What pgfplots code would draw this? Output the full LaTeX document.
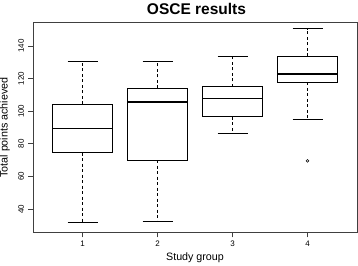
\documentclass[border=0pt]{standalone}
\usepackage{fontspec}
\setmainfont{Liberation Sans}
\usepackage{pgfplots}
\pgfplotsset{compat=1.18}
\usepgfplotslibrary{statistics}
\begin{document}
\begin{tikzpicture}
\begin{axis}[
  name=ax,
  scale only axis,
  clip=false,
  width=324pt, height=210.5pt,
  xmin=0.34, xmax=4.66,
  ymin=25.5, ymax=154.5,
  xtick={1,2,3,4},
  ytick={40,60,80,100,120,140},
  yticklabels={},
  xtick pos=bottom, ytick pos=left,
  tick align=outside,
  major tick length=4.5pt,
  /pgf/number format/assume math mode=true,
  ticklabel style={font=\fontsize{8}{9}\selectfont},
  xticklabel style={anchor=north, inner sep=1pt, yshift=-2pt},
  axis line style={black!75, line width=0.8pt},
  tick style={black!75, line width=0.8pt},
  title={OSCE results},
  title style={font=\fontsize{15.5}{17}\selectfont\bfseries, at={(axis description cs:0.5,1)}, anchor=base, yshift=1.3pt, xshift=1.5pt},
  xlabel={Study group},
  ylabel={Total points achieved},
  label style={font=\fontsize{10.7}{12}\selectfont},
  xlabel style={at={(axis description cs:0.5,-0.133)}, anchor=base},
  ylabel style={at={(axis description cs:-0.087,0.5)}, anchor=center},
  boxplot/draw direction=y,
  boxplot/box extend=0.8,
  boxplot/whisker extend=0.4,
  boxplot/every median/.style={line width=1.6pt},
  boxplot/draw/lower whisker/.code={%
    \draw[line width=0.8pt, dash pattern=on 3pt off 2.5pt] (boxplot box cs:\pgfplotsboxplotvalue{lower quartile},0.5) -- (boxplot box cs:\pgfplotsboxplotvalue{lower whisker},0.5);
    \draw[line width=0.8pt] (boxplot whisker cs:\pgfplotsboxplotvalue{lower whisker},0) -- (boxplot whisker cs:\pgfplotsboxplotvalue{lower whisker},1);
  },
  boxplot/draw/upper whisker/.code={%
    \draw[line width=0.8pt, dash pattern=on 3pt off 2.5pt] (boxplot box cs:\pgfplotsboxplotvalue{upper quartile},0.5) -- (boxplot box cs:\pgfplotsboxplotvalue{upper whisker},0.5);
    \draw[line width=0.8pt] (boxplot whisker cs:\pgfplotsboxplotvalue{upper whisker},0) -- (boxplot whisker cs:\pgfplotsboxplotvalue{upper whisker},1);
  },
]
\addplot[black, line width=0.8pt, boxplot prepared={draw position=1,
  lower whisker=32, lower quartile=74.6, median=89.5, upper quartile=104.4, upper whisker=130.4}]
  coordinates {};
\addplot[black, line width=0.8pt, boxplot prepared={draw position=2,
  lower whisker=32.5, lower quartile=70, median=105.6, upper quartile=114, upper whisker=130.4}]
  coordinates {};
\addplot[black, line width=0.8pt, boxplot prepared={draw position=3,
  lower whisker=86.6, lower quartile=96.6, median=107.7, upper quartile=115, upper whisker=133.5}]
  coordinates {};
\addplot[black, line width=0.8pt, mark=o, mark size=1.4pt, mark options={solid, line width=0.6pt},
  boxplot prepared={draw position=4,
  lower whisker=94.8, lower quartile=117.7, median=123, upper quartile=133.7, upper whisker=150.6}]
  table[row sep=\\, y index=0] {y\\ 69.6\\};
\pgfplotsinvokeforeach{40,60,80,100,120,140}{
  \node[rotate=90, font=\fontsize{8}{9}\selectfont, inner sep=0pt, anchor=center]
    at ([xshift=-12pt]axis cs:0.34,#1) {#1};
}
\end{axis}
\pgfresetboundingbox
\path ([shift={(-33pt,-32.3pt)}]ax.south west) rectangle ([shift={(1pt,22.3pt)}]ax.north east);
\end{tikzpicture}
\end{document}
